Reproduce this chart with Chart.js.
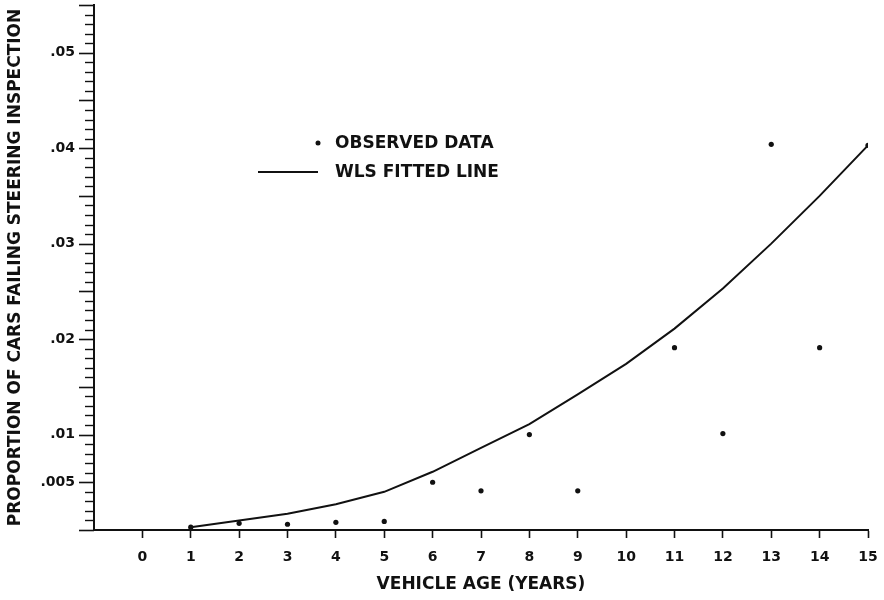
<!DOCTYPE html>
<html><head><meta charset="utf-8">
<script src="https://cdn.jsdelivr.net/npm/chart.js@4/dist/chart.umd.min.js"></script>
<style>html,body{margin:0;padding:0;background:#fff}#wrap{width:884px;height:600px}</style>
</head><body><div id="wrap"><canvas id="c" width="884" height="600"></canvas></div>
<script>
// ---- data ----
const vehicleAge = [1, 2, 3, 4, 5, 6, 7, 8, 9, 10, 11, 12, 13, 14, 15];
const fittedProportion = [0.0003, 0.0010, 0.0017, 0.0027, 0.0040, 0.0061, 0.0086, 0.0111, 0.0142, 0.0174, 0.0211, 0.0253, 0.0300, 0.0350, 0.0403];
const observedAge = [1, 2, 3, 4, 5, 6, 7, 8, 9, 11, 12, 13, 14, 15];
const observedProportion = [0.0003, 0.0007, 0.0006, 0.0008, 0.0009, 0.0050, 0.0041, 0.0100, 0.0041, 0.0191, 0.0101, 0.0404, 0.0191, 0.0403];
const xTickValues = [0, 1, 2, 3, 4, 5, 6, 7, 8, 9, 10, 11, 12, 13, 14, 15];
const xTickLabels = ['0', '1', '2', '3', '4', '5', '6', '7', '8', '9', '10', '11', '12', '13', '14', '15'];
const yLabelValues = [0.005, 0.01, 0.02, 0.03, 0.04, 0.05];
const yTickLabels = ['.005', '.01', '.02', '.03', '.04', '.05'];
const legendLabels = ['OBSERVED DATA', 'WLS FITTED LINE'];
const xAxisTitle = 'VEHICLE AGE (YEARS)';
const yAxisTitle = 'PROPORTION OF CARS FAILING STEERING INSPECTION';

const INK = '#111';
const FONT = 'DejaVu Sans';

// draws the y-axis tick marks (minor every .001, longer every .005) at the scale's own tick positions
const yTickMarks = {
  id: 'yTickMarks',
  afterDraw(chart) {
    const {ctx, chartArea, scales} = chart;
    const ys = scales.y;
    ctx.save();
    ctx.strokeStyle = INK;
    ys.ticks.forEach((t) => {
      const k = Math.round(t.value * 1000);
      const major = k % 5 === 0;
      const len = major ? 15 : 9;
      const y = Math.round(ys.getPixelForValue(t.value)) + 0.5;
      ctx.lineWidth = major ? 1.6 : 1.4;
      ctx.beginPath();
      ctx.moveTo(chartArea.left - len, y);
      ctx.lineTo(chartArea.left, y);
      ctx.stroke();
    });
    ctx.restore();
  }
};

const insideLegend = {
  id: 'insideLegend',
  afterDraw(chart) {
    const {ctx} = chart;
    ctx.save();
    ctx.fillStyle = INK;
    ctx.strokeStyle = INK;
    ctx.font = 'bold 17px "' + FONT + '"';
    ctx.textBaseline = 'middle';
    ctx.textAlign = 'left';
    ctx.beginPath();
    ctx.arc(318, 143, 2.5, 0, Math.PI * 2);
    ctx.fill();
    ctx.fillText(legendLabels[0], 335, 144);
    ctx.lineWidth = 2;
    ctx.beginPath();
    ctx.moveTo(258, 172);
    ctx.lineTo(318, 172);
    ctx.stroke();
    ctx.fillText(legendLabels[1], 335, 173);
    ctx.restore();
  }
};

new Chart(document.getElementById('c'), {
  type: 'scatter',
  data: {
    datasets: [
      {
        label: legendLabels[0],
        data: observedAge.map((x, i) => ({x: x, y: observedProportion[i]})),
        showLine: false,
        pointRadius: 2.6,
        pointBackgroundColor: INK,
        pointBorderWidth: 0,
        order: 1
      },
      {
        label: legendLabels[1],
        data: vehicleAge.map((x, i) => ({x: x, y: fittedProportion[i]})),
        showLine: true,
        borderColor: INK,
        borderWidth: 2,
        pointRadius: 0,
        tension: 0,
        fill: false,
        order: 2
      }
    ]
  },
  options: {
    responsive: false,
    animation: false,
    devicePixelRatio: 1,
    layout: {padding: {top: 5, right: 16, left: 0, bottom: 0}},
    plugins: {legend: {display: false}, tooltip: {enabled: false}},
    scales: {
      x: {
        type: 'linear',
        min: -1,
        max: 15,
        afterBuildTicks: (s) => { s.ticks = xTickValues.map(v => ({value: v})); },
        afterFit: (s) => { s.height = 70; s.paddingLeft = 0; s.paddingRight = 0; },
        ticks: {
          autoSkip: false,
          maxRotation: 0,
          color: INK,
          padding: 11,
          font: {family: FONT, size: 14, weight: 'bold'},
          callback: (v) => { const i = xTickValues.indexOf(v); return i >= 0 ? xTickLabels[i] : ''; }
        },
        grid: {drawOnChartArea: false, drawTicks: true, tickLength: 8, tickWidth: 1.6, tickColor: INK, color: INK},
        border: {display: true, color: INK, width: 2},
        title: {display: true, text: xAxisTitle, color: INK, font: {family: FONT, size: 17, weight: 'bold'}, padding: {top: 0, bottom: 5}}
      },
      y: {
        type: 'linear',
        min: 0,
        max: 0.055,
        afterBuildTicks: (s) => { const t = []; for (let i = 0; i <= 55; i++) t.push({value: i / 1000}); s.ticks = t; },
        afterFit: (s) => { s.width = 94; s.paddingTop = 0; s.paddingBottom = 0; },
        ticks: {
          autoSkip: false,
          color: INK,
          padding: 1,
          font: {family: FONT, size: 14, weight: 'bold'},
          callback: (v) => { const i = yLabelValues.findIndex(u => Math.abs(u - v) < 1e-7); return i >= 0 ? yTickLabels[i] : ''; }
        },
        grid: {drawOnChartArea: false, drawTicks: true, tickLength: 18, tickColor: 'rgba(0,0,0,0)', color: INK},
        border: {display: true, color: INK, width: 2},
        title: {display: true, text: yAxisTitle, color: INK, font: {family: FONT, size: 17, weight: 'bold'}, padding: {top: 5, bottom: 0}}
      }
    }
  },
  plugins: [yTickMarks, insideLegend]
});
</script>
</body></html>
